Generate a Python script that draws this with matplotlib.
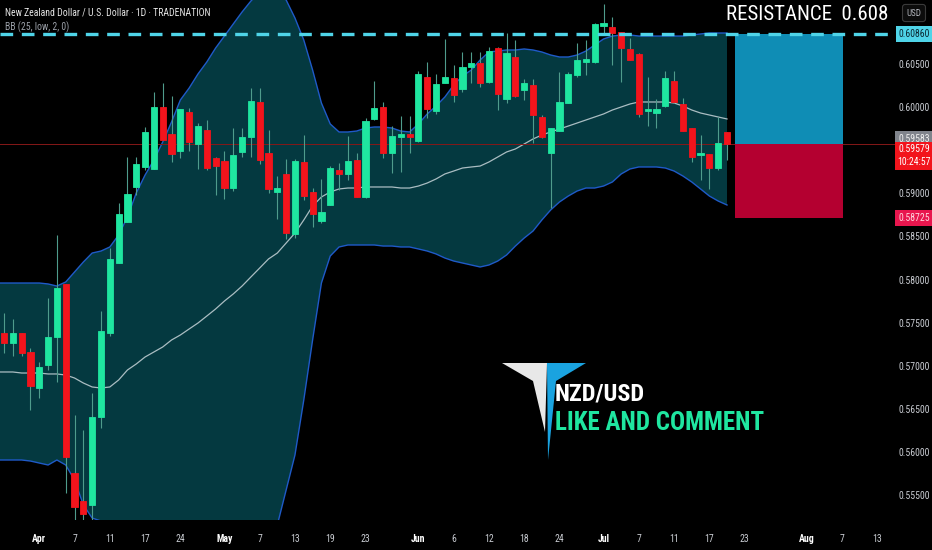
import matplotlib
matplotlib.use("Agg")
import matplotlib.pyplot as plt
from matplotlib import font_manager
from matplotlib.patches import Rectangle, Polygon
from matplotlib.transforms import blended_transform_factory
import numpy as np

# ---------------- data ----------------
opens = [0.57391,0.57275,0.57391,0.57171,0.56753,0.57020,0.57345,0.57960,0.55767,0.55442,
         0.55396,0.56417,0.57391,0.58203,0.58679,0.59085,0.59317,0.59294,0.60013,0.59700,
         0.59502,0.59955,0.59584,0.59746,0.59421,0.59386,0.59073,0.59491,0.59665,0.60071,
         0.59479,0.59027,0.59236,0.58540,0.59375,0.59027,0.58690,0.58876,0.59282,0.59236,
         0.59398,0.58969,0.59874,0.60013,0.59479,0.59665,0.59700,0.59618,0.60361,0.59966,
         0.60291,0.60349,0.60222,0.60477,0.60523,0.60303,0.60697,0.60106,0.60593,0.60210,
         0.60268,0.59897,0.59479,0.59734,0.60059,0.60384,0.60535,0.60535,0.60952,0.60941,
         0.60883,0.60686,0.60628,0.59966,0.59943,0.60024,0.60314,0.60048,0.59769,0.59456,
         0.59468,0.59305,0.59723]
highs = [0.57623,0.57554,0.57391,0.57217,0.57055,0.57797,0.58528,0.57960,0.56440,0.56266,
         0.56695,0.57646,0.58377,0.58899,0.59433,0.59433,0.59781,0.60187,0.60291,0.60140,
         0.59990,0.60001,0.59827,0.59862,0.59433,0.59502,0.59769,0.59769,0.60233,0.60233,
         0.59746,0.59212,0.59410,0.59410,0.59688,0.59073,0.59178,0.59328,0.59363,0.59676,
         0.59479,0.59885,0.60314,0.60071,0.59792,0.59908,0.59908,0.60430,0.60535,0.60396,
         0.60802,0.60500,0.60651,0.60651,0.60651,0.60709,0.60709,0.60871,0.60790,0.60338,
         0.60338,0.59920,0.59769,0.60419,0.60419,0.60755,0.60790,0.60987,0.61208,0.61057,
         0.60883,0.60813,0.60639,0.60361,0.60106,0.60430,0.60430,0.60117,0.59769,0.59688,
         0.59468,0.59897,0.59723]
lows = [0.57159,0.57124,0.57124,0.56498,0.56637,0.56962,0.56823,0.55535,0.55141,0.55164,
        0.55164,0.56289,0.57356,0.58203,0.58679,0.58992,0.59282,0.59294,0.59630,0.59375,
        0.59421,0.59502,0.59294,0.59282,0.58992,0.58946,0.59038,0.59433,0.59433,0.59352,
        0.59015,0.58714,0.58482,0.58493,0.58934,0.58621,0.58667,0.58876,0.59050,0.59166,
        0.58969,0.58957,0.59862,0.59421,0.59247,0.59259,0.59479,0.59607,0.59885,0.59932,
        0.60291,0.60071,0.60187,0.60291,0.60245,0.60291,0.59978,0.60059,0.60129,0.60094,
        0.59595,0.59653,0.58841,0.59734,0.60059,0.60361,0.60384,0.60523,0.60871,0.60500,
        0.60303,0.60558,0.59897,0.59792,0.59769,0.60013,0.60059,0.59734,0.59375,0.59166,
        0.59062,0.59282,0.59398]
closes = [0.57275,0.57391,0.57159,0.56776,0.56997,0.57345,0.57913,0.55953,0.55373,0.55292,
          0.56417,0.57414,0.58250,0.58772,0.59004,0.59352,0.59723,0.60013,0.59630,0.59468,
          0.59990,0.59607,0.59792,0.59305,0.59328,0.59073,0.59456,0.59665,0.60082,0.59398,
          0.59062,0.59073,0.58551,0.59386,0.58980,0.58772,0.58795,0.59305,0.59236,0.59386,
          0.58969,0.59850,0.60001,0.59479,0.59676,0.59700,0.59665,0.60396,0.59990,0.60280,
          0.60361,0.60152,0.60477,0.60523,0.60291,0.60662,0.60164,0.60639,0.60140,0.60291,
          0.59920,0.59665,0.59769,0.60071,0.60396,0.60558,0.60570,0.60976,0.60987,0.60871,
          0.60697,0.60558,0.59932,0.59990,0.59990,0.60349,0.60071,0.59734,0.59433,0.59479,
          0.59305,0.59595,0.59579]

bb_upper = [0.57971,0.57971,0.57971,0.57971,0.57971,0.57960,0.57936,0.57983,0.58099,0.58215,
            0.58319,0.58342,0.58389,0.58528,0.58737,0.59015,0.59224,0.59398,0.59607,0.59839,
            0.60094,0.60233,0.60396,0.60535,0.60697,0.60836,0.60976,0.61115,0.61242,0.61347,
            0.61393,0.61370,0.61254,0.61045,0.60790,0.60442,0.60059,0.59816,0.59723,0.59723,
            0.59734,0.59769,0.59781,0.59781,0.59769,0.59734,0.59723,0.59816,0.59932,0.60024,
            0.60129,0.60268,0.60372,0.60442,0.60558,0.60651,0.60662,0.60674,0.60674,0.60686,
            0.60674,0.60651,0.60616,0.60593,0.60593,0.60616,0.60662,0.60732,0.60802,0.60836,
            0.60848,0.60848,0.60836,0.60836,0.60836,0.60836,0.60836,0.60836,0.60848,0.60860,
            0.60871,0.60871,0.60871]
bb_middle = [0.56939,0.56939,0.56927,0.56927,0.56927,0.56916,0.56916,0.56904,0.56869,0.56811,
             0.56765,0.56753,0.56765,0.56846,0.56962,0.57032,0.57113,0.57171,0.57229,0.57310,
             0.57368,0.57438,0.57507,0.57588,0.57670,0.57762,0.57844,0.57936,0.58041,0.58145,
             0.58250,0.58319,0.58435,0.58551,0.58702,0.58864,0.58969,0.59027,0.59062,0.59073,
             0.59073,0.59085,0.59085,0.59085,0.59085,0.59073,0.59073,0.59096,0.59131,0.59178,
             0.59236,0.59270,0.59305,0.59317,0.59328,0.59375,0.59433,0.59491,0.59526,0.59584,
             0.59642,0.59688,0.59723,0.59758,0.59792,0.59827,0.59862,0.59897,0.59932,0.59978,
             0.60013,0.60048,0.60071,0.60071,0.60071,0.60071,0.60059,0.60024,0.59978,0.59943,
             0.59920,0.59897,0.59874]
bb_lower = [0.55918,0.55918,0.55918,0.55906,0.55883,0.55860,0.55918,0.55860,0.55686,0.55396,
            0.55245,0.55210,0.55176,0.55129,0.55050,0.54950,0.54850,0.54780,0.54720,0.54680,
            0.54660,0.54650,0.54660,0.54680,0.54720,0.54780,0.54850,0.54920,0.55000,0.55070,
            0.55120,0.55164,0.55570,0.55976,0.56614,0.57310,0.57971,0.58284,0.58389,0.58412,
            0.58412,0.58412,0.58412,0.58400,0.58400,0.58389,0.58389,0.58366,0.58342,0.58308,
            0.58261,0.58226,0.58203,0.58180,0.58157,0.58180,0.58226,0.58296,0.58400,0.58493,
            0.58574,0.58702,0.58818,0.58911,0.58980,0.59038,0.59073,0.59073,0.59096,0.59143,
            0.59236,0.59294,0.59317,0.59317,0.59317,0.59305,0.59270,0.59212,0.59143,0.59062,
            0.58980,0.58922,0.58876]

tick_bars = [4, 8, 12, 16, 20, 25, 29, 33, 37, 41, 47, 51, 55, 59, 63, 68, 72, 76, 80, 84, 91, 95, 99]
tick_labels = ["Apr", "7", "11", "17", "24", "May", "7", "13", "19", "23", "Jun", "6", "12",
               "18", "24", "Jul", "7", "11", "17", "23", "Aug", "7", "13"]
price_ticks = [0.555, 0.560, 0.565, 0.570, 0.575, 0.580, 0.585, 0.590, 0.600, 0.605]

resistance = 0.6086
last_price = 0.59579
marker_price = 0.59583
stop_price = 0.58725
position_bars = (83, 95)
countdown = "10:24:57"

# ---------------- style ----------------
W, H = 932, 550


def pick(names):
    for nm in names:
        try:
            font_manager.findfont(nm, fallback_to_default=False)
            return nm
        except Exception:
            continue
    return "DejaVu Sans"


NARROW = pick(["Liberation Sans Narrow", "Roboto Condensed", "Liberation Sans"])
plt.rcParams["font.family"] = [NARROW, "DejaVu Sans"]

GREEN = "#1fe6a0"
RED = "#f2141c"
WICK = "#4f9c8c"
BAND_FILL = "#043940"
BAND_LINE = "#1f5ac8"
MID_LINE = "#aabdc2"
AXIS_TXT = "#c9ccd2"

fig = plt.figure(figsize=(W / 100, H / 100), dpi=100, facecolor="black")
ax = fig.add_axes([0, 30 / H, 897 / W, 520 / H])
ax.set_facecolor("black")
for s in ax.spines.values():
    s.set_visible(False)
ax.set_xticks([])
ax.set_yticks([])
ax.set_xlim(-0.454, 101.28)
ax.set_ylim(0.55222, 0.61254)

n = len(opens)
idx = np.arange(n, dtype=float)

# Bollinger bands
xb = idx.copy()
xb[0] = ax.get_xlim()[0]
ax.fill_between(xb, bb_lower, bb_upper, color=BAND_FILL, lw=0, zorder=1)
ax.plot(xb, bb_upper, color=BAND_LINE, lw=1.0, zorder=2)
ax.plot(xb, bb_lower, color=BAND_LINE, lw=1.0, zorder=2)
ax.plot(xb, bb_middle, color=MID_LINE, lw=0.9, zorder=2)

# candles
for i in range(n):
    o, h, l, c = opens[i], highs[i], lows[i], closes[i]
    col = GREEN if c >= o else RED
    ax.vlines(i, l, h, color=WICK, lw=0.8, zorder=3)
    ax.bar(i, abs(c - o), bottom=min(o, c), width=0.7, color=col,
           edgecolor=col, linewidth=0.6, zorder=4)

# last price line
ax.axhline(last_price, color="#861818", lw=0.7, zorder=2.5)
# resistance dashed line
ax.axhline(resistance, color="#4fd4e8", lw=2.4, dashes=(3.8, 2.6), zorder=5)

# position tool
x0, x1 = position_bars
ax.add_patch(Rectangle((x0 - 0.1, last_price), x1 - x0 + 0.2, resistance - last_price,
                       facecolor="#0f8db5", edgecolor="none", zorder=3))
ax.add_patch(Rectangle((x0 - 0.1, stop_price), x1 - x0 + 0.2, last_price - stop_price,
                       facecolor="#b40030", edgecolor="none", zorder=3))

# price axis labels
ytr = blended_transform_factory(fig.transFigure, ax.transData)
for p in price_ticks:
    ax.text(914 / W, p, f"{p:.5f}", transform=ytr, ha="center", va="center",
            fontsize=7, color=AXIS_TXT, clip_on=False)


def tag(price, txt, fc, tc, va="center"):
    return ax.text(914 / W, price, txt, transform=ytr, ha="center", va=va,
                   fontsize=7, color=tc, zorder=10, linespacing=1.35, clip_on=False,
                   bbox=dict(boxstyle="square,pad=0.28", fc=fc, ec="none"))


tag(resistance, f"{resistance:.5f}", "#4fd4e8", "#0b2630")
tag(marker_price, f"{marker_price:.5f}", "#80848c", "#f0f0f0", va="bottom")
tag(last_price, f"{last_price:.5f}\n{countdown}", "#f2141c", "white", va="top")
tag(stop_price, f"{stop_price:.5f}", "#e8164e", "#ffd6de")

fig.text(914 / W, 1 - 13 / H, "USD", ha="center", va="center", fontsize=6.5, color="#b0b3ba",
         bbox=dict(boxstyle="round,pad=0.45,rounding_size=0.3", fc="#0c0c0c", ec="#3a3a3a", lw=0.8))

# time axis labels
xtr = blended_transform_factory(ax.transData, fig.transFigure)
for b, lab in zip(tick_bars, tick_labels):
    bold = not lab.isdigit()
    ax.text(b, 1 - 539 / H, lab, transform=xtr, ha="center", va="center", fontsize=7,
            color="white" if bold else AXIS_TXT, fontweight="bold" if bold else "normal",
            clip_on=False)

# header texts
fig.text(5 / W, 1 - 13 / H, "New Zealand Dollar / U.S. Dollar \u00b7 1D \u00b7 TRADENATION",
         ha="left", va="center", fontsize=7, color="#e6e6e6")
fig.text(5 / W, 1 - 27 / H, "BB (25, low, 2, 0)", ha="left", va="center", fontsize=7,
         color="#9ba0a8")
fig.text(888 / W, 1 - 14 / H, "RESISTANCE  0.608", ha="right", va="center", fontsize=15,
         color="white")


# logo
def px(x, y):
    return (x / W, 1 - y / H)


fig.patches.append(Polygon([px(502, 363), px(547, 363), px(545, 432), px(533, 381)],
                           closed=True, transform=fig.transFigure, fc="#e8e8e8", ec="none"))
fig.patches.append(Polygon([px(547, 363), px(586, 363), px(556, 381), px(548, 460)],
                           closed=True, transform=fig.transFigure, fc="#1aa3e0", ec="none"))
fig.text(555 / W, 1 - 394 / H, "NZD/USD", ha="left", va="center", fontsize=17.5,
         color="white", fontweight="bold")
fig.text(555 / W, 1 - 423 / H, "LIKE AND COMMENT", ha="left", va="center", fontsize=18,
         color="#1fe6a0", fontweight="bold")

fig.savefig("out.png", dpi=100, facecolor="black")
